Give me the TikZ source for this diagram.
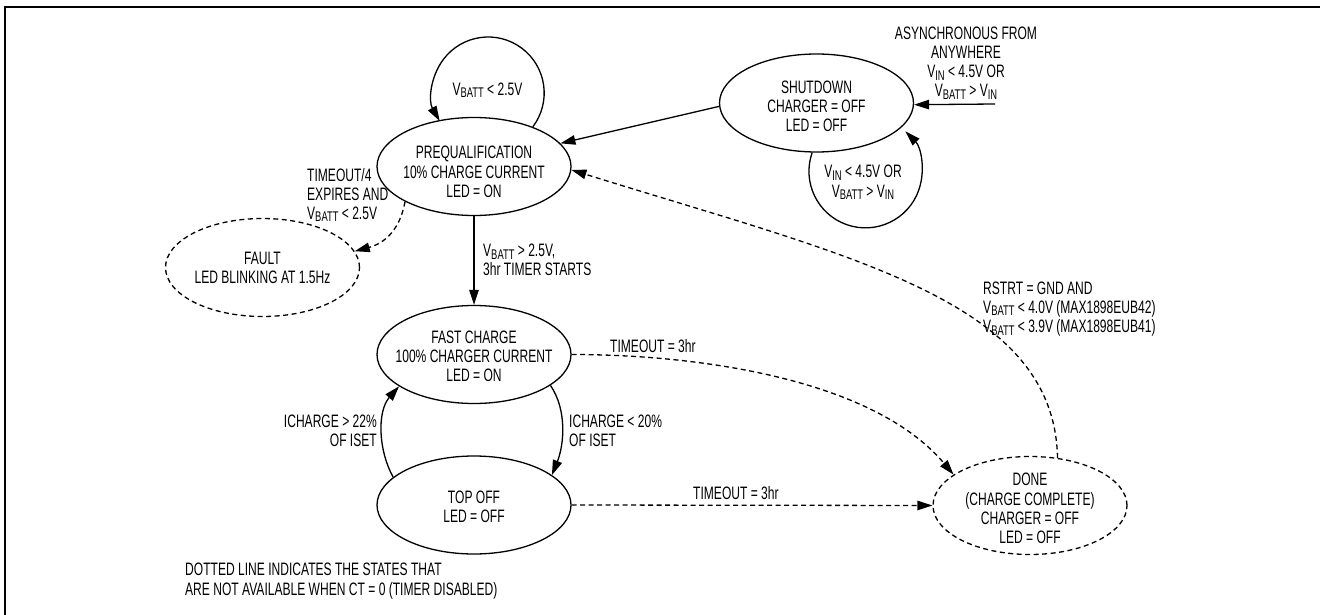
\documentclass[tikz,border=0pt]{standalone}
\usepackage{fontspec}
\setmainfont{Liberation Sans}[FakeStretch=0.67]
\usetikzlibrary{arrows.meta,shapes.geometric}
\newcommand\sbs[1]{\raisebox{-2.5pt}{\fontsize{14}{14}\selectfont #1}}
\begin{document}
\begin{tikzpicture}[x=1pt,y=-1pt,
  every node/.style={font=\fontsize{18}{19.2}\selectfont, inner sep=0pt},
  stbox/.style={draw, ellipse, line width=1.3pt, minimum width=194pt, minimum height=98pt},
  dstbox/.style={stbox, dash pattern=on 5pt off 3.5pt},
  arr/.style={line width=1.3pt, -{Triangle[length=15pt,width=9.5pt]}},
  darr/.style={arr, dash pattern=on 5pt off 3.5pt},
  ]
\useasboundingbox (0,0) rectangle (1320,615);
% frame
\draw[line width=2.3pt] (5.2,620) -- (5.2,7.2) -- (1325,7.2);

% states
\node[stbox]  (pre)   at (474,166.5) {};
\node[stbox]  (shut)  at (816.5,103) {};
\node[dstbox] (fault) at (262.5,267.5) {};
\node[stbox]  (fast)  at (474,354.5) {};
\node[stbox]  (top)   at (474,505) {};
\node[dstbox] (done)  at (1030,505.5) {};

\node[align=center] (pretxt)   at (474,172)    {PREQUALIFICATION\\10\% CHARGE CURRENT\\LED = ON};
\node[align=center] (shuttxt)  at (816.5,106.5) {SHUTDOWN\\CHARGER = OFF\\LED = OFF};
\node[align=center] (faulttxt) at (262.5,267.5) {FAULT\\LED BLINKING AT 1.5Hz};
\node[align=center] (fasttxt)  at (474,356.5)  {FAST CHARGE\\100\% CHARGER CURRENT\\LED = ON};
\node[align=center] (toptxt)   at (474,506.5)  {TOP OFF\\LED = OFF};
\node[align=center] (donetxt)  at (1030,508.5) {DONE\\(CHARGE COMPLETE)\\CHARGER = OFF\\LED = OFF};

% connectors
\draw[arr] (pre.34) arc[start angle=37.2, end angle=-210, radius=56];
\node (lpreloop) at (487.5,90) {V\sbs{BATT} < 2.5V};

\draw[arr] (shut.182) -- (pre.15);

\coordinate (asyncsrc) at (995,104);
\draw[arr] (asyncsrc) -- (shut.-1);
\node[align=center] (lasync) at (966,63) {ASYNCHRONOUS FROM\\ANYWHERE\\V\sbs{IN} < 4.5V OR\\V\sbs{BATT} > V\sbs{IN}};

\draw[arr] (shut.265) arc[start angle=199.4, end angle=-45, radius=56.5];
\node[align=center] (lshutloop) at (863,182.5) {V\sbs{IN} < 4.5V OR\\V\sbs{BATT} > V\sbs{IN}};

\draw[darr] (pre.207) .. controls +(-5,28) and +(30,-8) .. (fault.10);
\node[align=left, anchor=west] (lfault) at (307,195) {TIMEOUT/4\\EXPIRES AND\\V\sbs{BATT} < 2.5V};

\draw[arr] (pre.south) -- (fast.north);
\node[align=left, anchor=west] (lprefast) at (483,260) {V\sbs{BATT} > 2.5V,\\3hr TIMER STARTS};

\draw[arr] (fast.-22) .. controls +(17,25) and +(12,-30) .. (top.21);
\node[align=left, anchor=west] (lfasttop) at (569,431) {ICHARGE < 20\%\\OF ISET};

\draw[arr] (top.161) .. controls +(-15,-27) and +(-22,25) .. (fast.203);
\node[align=right, anchor=east] (ltopfast) at (377,431) {ICHARGE > 22\%\\OF ISET};

\draw[darr] (fast.east) .. controls +(129,0) and +(-80,-95) .. (done.158);
\node[anchor=west] (lfastdone) at (610,346) {TIMEOUT = 3hr};

\draw[darr] (top.east) -- (done.west);
\node[anchor=west] (ltopdone) at (693,493) {TIMEOUT = 3hr};

\draw[darr] (done.60) .. controls +(-3,-158) and +(279,87) .. (pre.-2);
\node[align=left, anchor=west] (ldonepre) at (983,309) {RSTRT = GND AND\\V\sbs{BATT} < 4.0V (MAX1898EUB42)\\V\sbs{BATT} < 3.9V (MAX1898EUB41)};

\node[align=left, anchor=west] (note) at (185,581) {DOTTED LINE INDICATES THE STATES THAT\\ARE NOT AVAILABLE WHEN CT = 0 (TIMER DISABLED)};
\end{tikzpicture}
\end{document}
